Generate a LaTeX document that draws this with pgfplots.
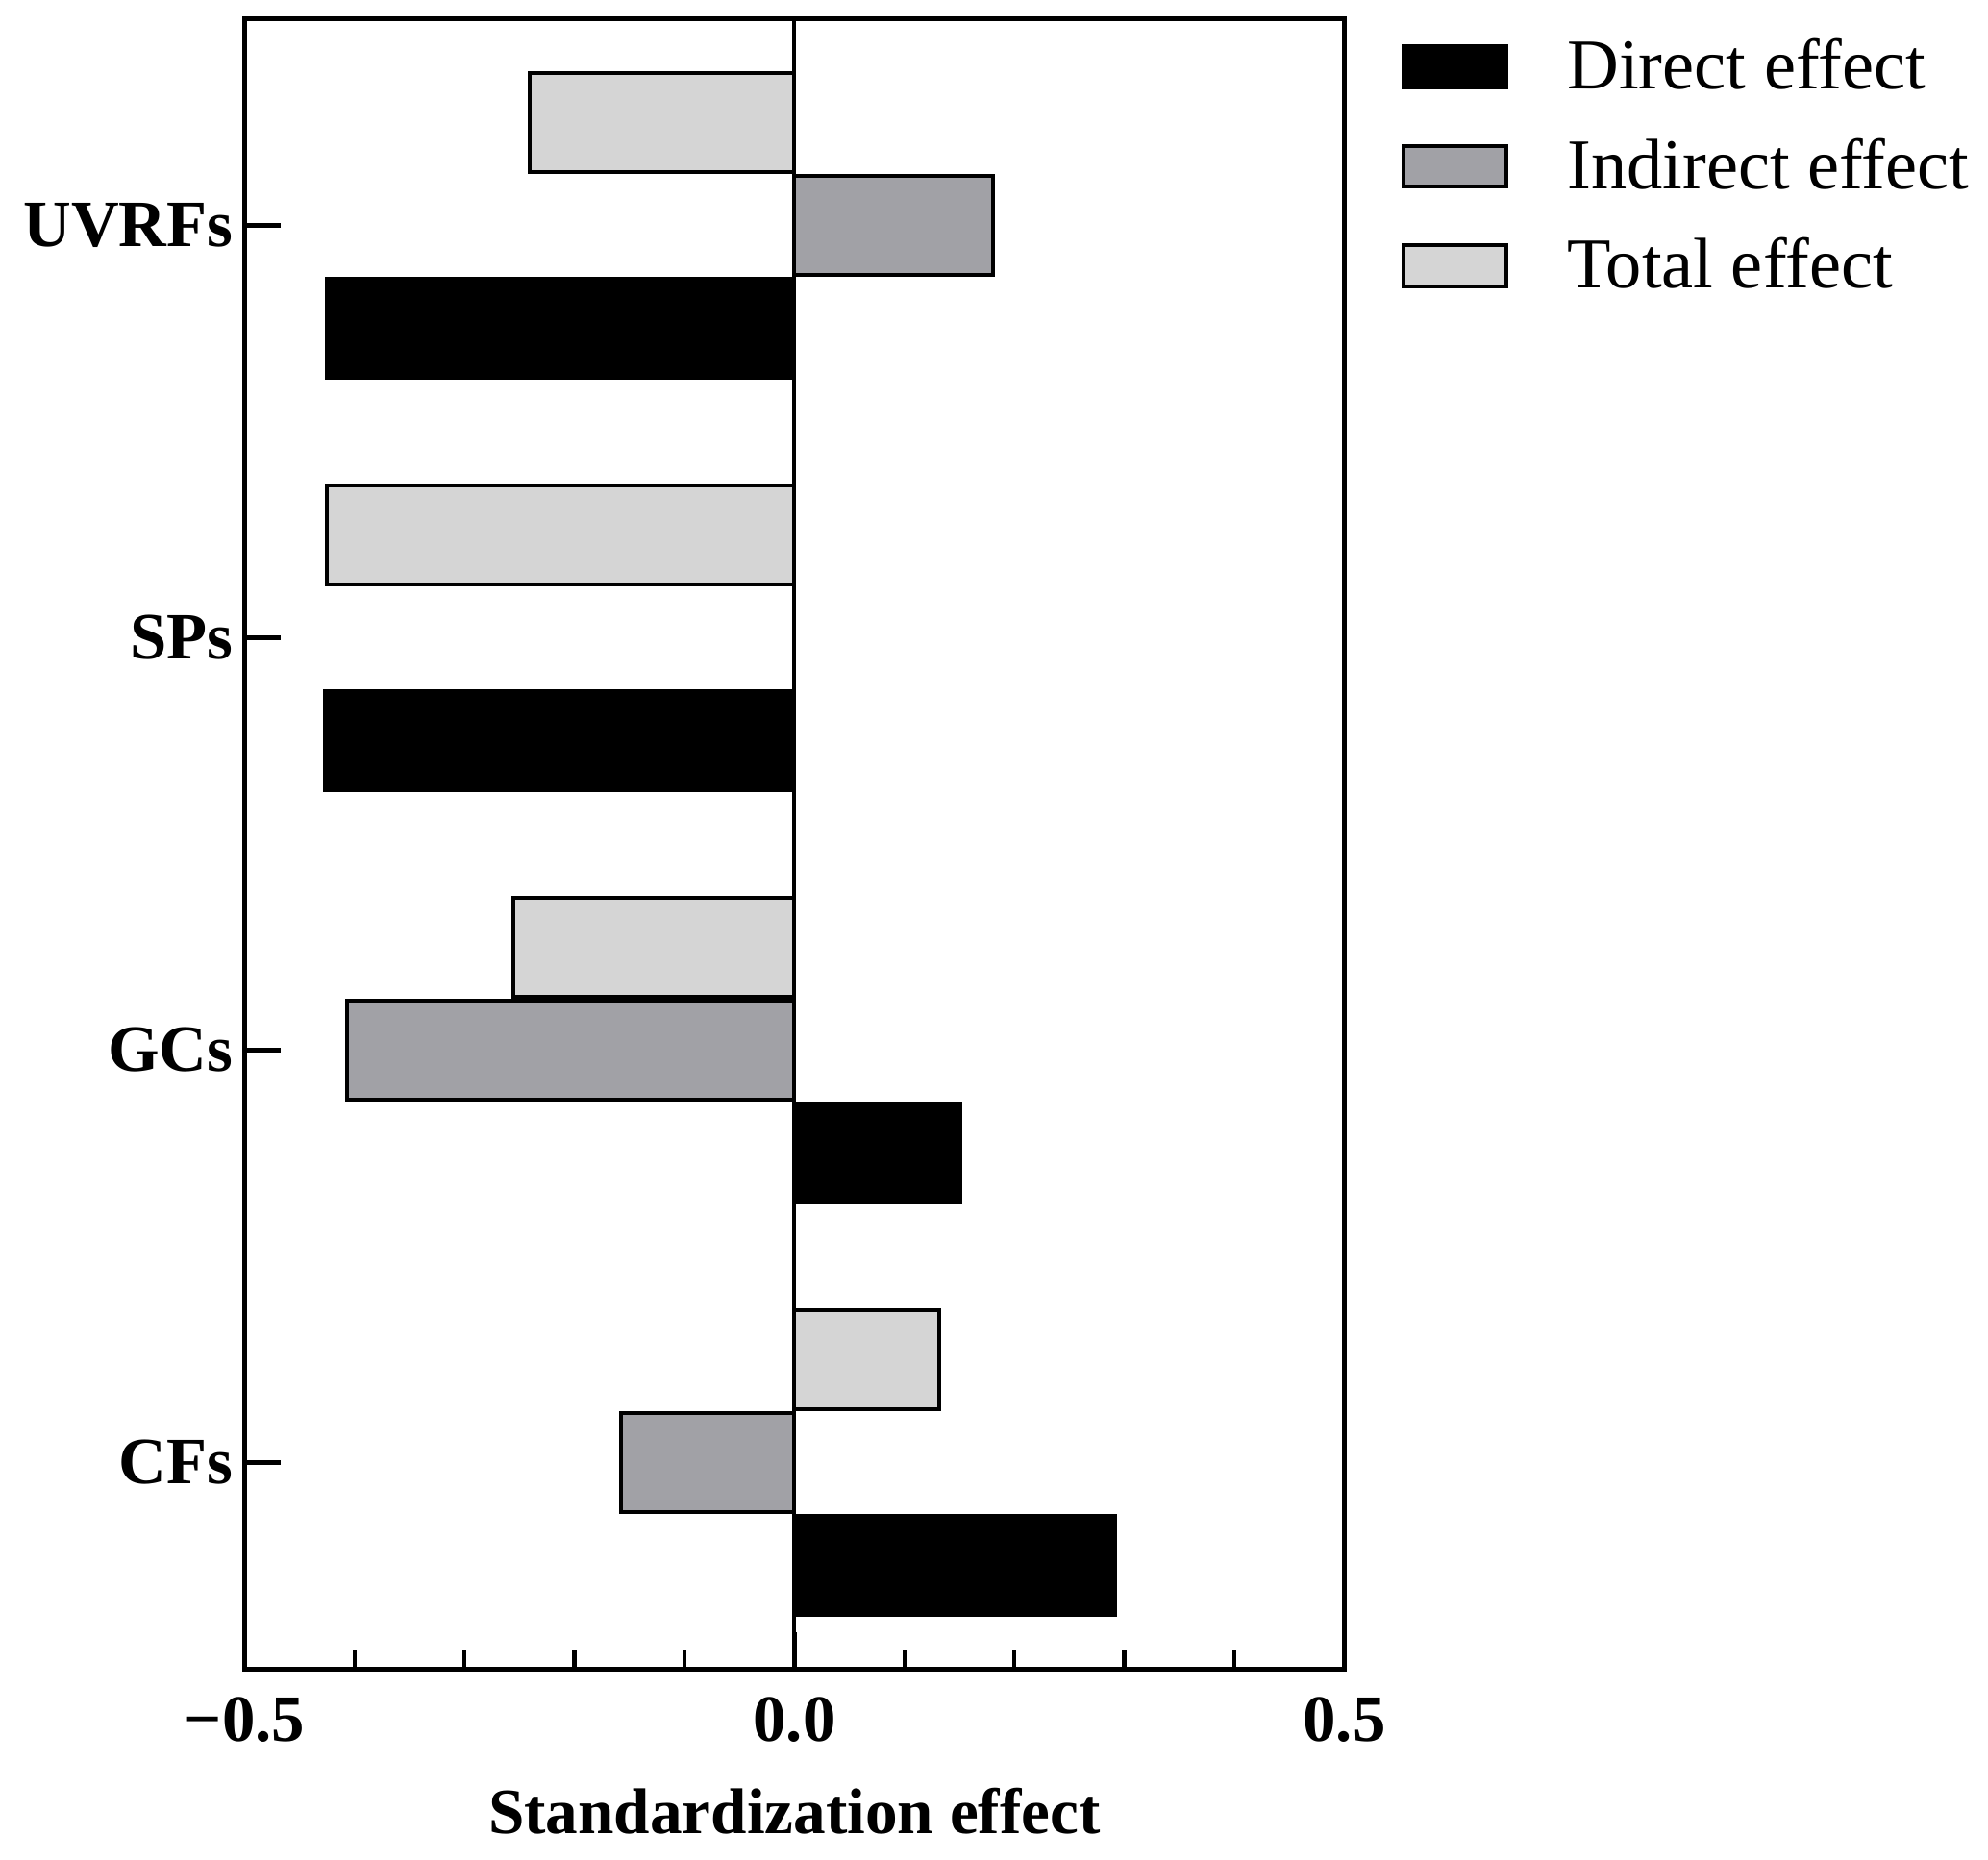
\documentclass[border=0pt]{standalone}
\usepackage{pgfplots}
\pgfplotsset{compat=1.18}
\usepackage{fontspec}
\setmainfont{Liberation Serif}

\definecolor{indirgray}{RGB}{161,161,166}
\definecolor{totgray}{RGB}{213,213,213}

\begin{document}
\begin{tikzpicture}
\begin{axis}[
    scale only axis,
    width=286pt, height=429pt,
    xmin=-0.5, xmax=0.5,
    ymin=-0.5, ymax=3.5,
    xbar, bar width=0.24,
    axis line style={line width=1.25pt},
    tick style={black, line width=1.1pt},
    tick align=inside,
    xtick pos=bottom, ytick pos=left,
    xtick={-0.5,0,0.5},
    xticklabels={\textbf{−0.5},\textbf{0.0},\textbf{0.5}},
    minor x tick num=4,
    major tick length=9.5pt,
    minor tick length=4.8pt,
    ytick={0,1,2,3},
    yticklabels={\textbf{CFs},\textbf{GCs},\textbf{SPs},\textbf{UVRFs}},
    ticklabel style={font=\fontsize{17.2}{18}\selectfont},
    xticklabel style={yshift=-4pt},
    yticklabel style={xshift=0.5pt},
    xlabel={\textbf{Standardization effect}},
    xlabel style={font=\fontsize{16.8}{18}\selectfont, yshift=-5pt},
    legend style={draw=none, at={(1.041,0.998)}, anchor=north west,
        font=\fontsize{18.6}{20}\selectfont, row sep=7.3pt,
        nodes={inner sep=2pt}},
    legend cell align=left,
    legend image code/.code={\draw[#1, line width=1pt] (0pt,-5.3pt) rectangle (26.8pt,5.3pt);},
]
\addplot[draw=black, fill=black, line width=1pt, bar shift=-0.25]
    coordinates {(-0.425,3) (-0.427,2) (0.151,1) (0.292,0)};
\addplot[draw=black, fill=indirgray, line width=1pt, bar shift=0]
    coordinates {(0.181,3) (-0.407,1) (-0.158,0)};
\addplot[draw=black, fill=totgray, line width=1pt, bar shift=0.25]
    coordinates {(-0.241,3) (-0.425,2) (-0.256,1) (0.132,0)};
\legend{\hspace{13.3pt}Direct effect,\hspace{13.3pt}Indirect effect,\hspace{13.3pt}Total effect}
\addplot[black, line width=1pt, forget plot, xbar=0pt, draw, sharp plot] coordinates {(0,-0.5) (0,3.5)};
\end{axis}
\pgfresetboundingbox
\path ([shift={(-63.6pt,-49.7pt)}]current axis.south west) rectangle ([shift={(167.4pt,5pt)}]current axis.north east);
\end{tikzpicture}
\end{document}
